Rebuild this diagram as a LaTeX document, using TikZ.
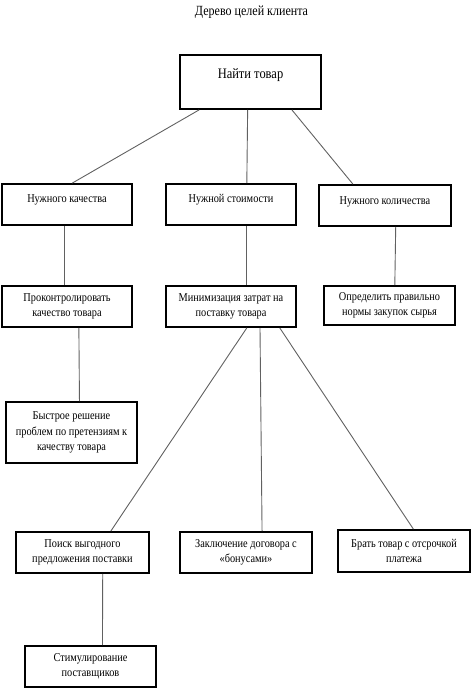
\documentclass[tikz,border=0pt]{standalone}
\usepackage{fontspec}
\setmainfont[FakeStretch=0.86]{Liberation Serif}
\usetikzlibrary{calc}
\begin{document}
\begin{tikzpicture}[x=1pt,y=-1pt,
  box/.style={draw=black, line width=1.8pt, rectangle, inner sep=1pt, align=center,
    font=\fontsize{12}{15.5}\selectfont, minimum width=130pt, minimum height=41pt},
  raised/.style={text depth=#1},
  link/.style={draw=black!62, line width=0.9pt}]
\useasboundingbox (0,0) rectangle (474,692);
\node[font=\fontsize{14}{15}\selectfont] (title) at (251.5,12) {Дерево целей клиента};
\node[box, minimum width=141pt, minimum height=54pt, font=\fontsize{14.5}{15}\selectfont, raised=17pt] (root) at (250.5,82) {Найти товар};
\node[box, raised=12pt] (q) at (67,204.5) {Нужного качества};
\node[box, raised=12pt] (c) at (231,204.5) {Нужной стоимости};
\node[box, minimum width=132pt, raised=10pt] (n) at (385,205.5) {Нужного количества};
\node[box] (q3) at (67,306.5) {Проконтролировать\\качество товара};
\node[box] (c3) at (231,306.5) {Минимизация затрат на\\поставку товара};
\node[box, minimum width=131pt, minimum height=39pt] (n3) at (389.5,305.5) {Определить правильно\\нормы закупок сырья};
\node[box, minimum width=131pt, minimum height=61pt] (b) at (71.5,432.5) {Быстрое решение\\проблем по претензиям к\\качеству товара};
\node[box, minimum width=133pt] (p) at (82.5,552.5) {Поиск выгодного\\предложения поставки};
\node[box, minimum width=132pt] (z) at (246,552.5) {Заключение договора с\\«бонусами»};
\node[box, minimum width=132pt, minimum height=42pt] (br) at (404,551) {Брать товар с отсрочкой\\платежа};
\node[box, minimum width=131pt] (s) at (90.5,666.5) {Стимулирование\\поставщиков};
\draw[link] ($(root.south west)!0.14!(root.south east)$) -- ($(q.north west)!0.54!(q.north east)$);
\draw[link] ($(root.south west)!0.48!(root.south east)$) -- ($(c.north west)!0.62!(c.north east)$);
\draw[link] ($(root.south west)!0.79!(root.south east)$) -- ($(n.north west)!0.26!(n.north east)$);
\draw[link] ($(q.south west)!0.48!(q.south east)$) -- ($(q3.north west)!0.48!(q3.north east)$);
\draw[link] ($(c.south west)!0.62!(c.south east)$) -- ($(c3.north west)!0.62!(c3.north east)$);
\draw[link] ($(n.south west)!0.58!(n.south east)$) -- ($(n3.north west)!0.54!(n3.north east)$);
\draw[link] ($(q3.south west)!0.59!(q3.south east)$) -- ($(b.north west)!0.56!(b.north east)$);
\draw[link] ($(c3.south west)!0.62!(c3.south east)$) -- ($(p.north west)!0.71!(p.north east)$);
\draw[link] ($(c3.south west)!0.72!(c3.south east)$) -- ($(z.north west)!0.62!(z.north east)$);
\draw[link] ($(c3.south west)!0.87!(c3.south east)$) -- ($(br.north west)!0.57!(br.north east)$);
\draw[link] ($(p.south west)!0.65!(p.south east)$) -- ($(s.north west)!0.59!(s.north east)$);
\end{tikzpicture}
\end{document}
